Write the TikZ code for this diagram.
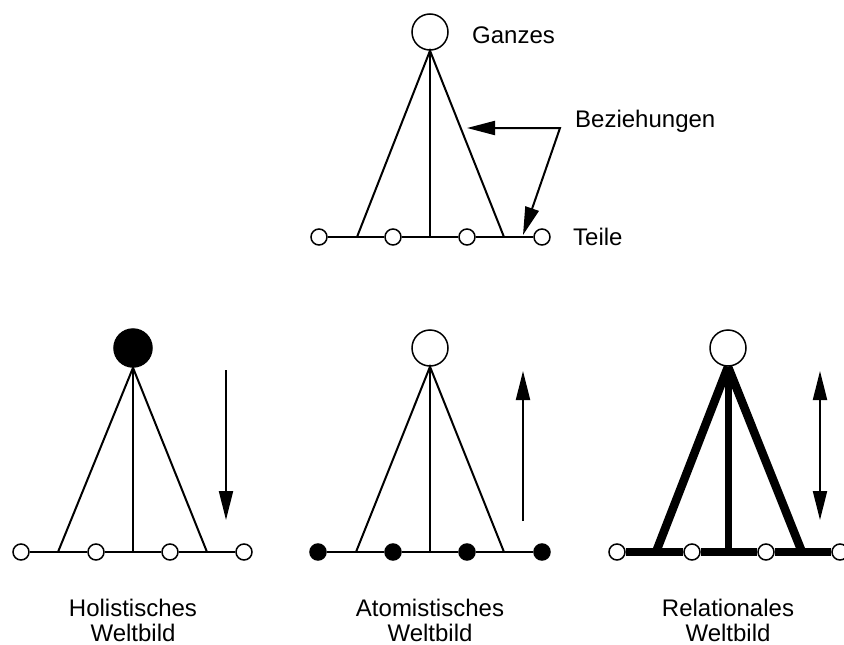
\documentclass[tikz,border=0pt]{standalone}
\usepackage{fontspec}
\setmainfont{Liberation Sans}
\usetikzlibrary{arrows.meta,backgrounds}

\begin{document}
\begin{tikzpicture}[
  x=1pt, y=-1pt,
  ganz/.style={draw, circle, fill=white, line width=1.5pt,
    minimum size=36pt, inner sep=0pt},
  teil/.style={draw, circle, fill=white, line width=1.5pt,
    minimum size=16pt, inner sep=0pt},
  rel/.style={line width=2pt},
  dick/.style={line width=8.5pt},
  pfeil/.style={line width=2pt, -{Triangle[length=29pt,width=14pt]}},
  txt/.style={font=\fontsize{24}{25}\selectfont, inner sep=0pt, align=center}
]
\useasboundingbox (0,0) rectangle (844,645);

\node[ganz] (g) at (430,32) {};
\node[teil] (t1) at (319,237) {};
\node[teil] (t2) at (393,237) {};
\node[teil] (t3) at (467,237) {};
\node[teil] (t4) at (542,237) {};
\coordinate (tl) at (357,237);
\coordinate (tm) at (430,237);
\coordinate (tr) at (504,237);
\node[txt, anchor=base west] (ganzes) at (472,43) {Ganzes};
\node[txt, anchor=base west] (bez) at (575,127) {Beziehungen};
\node[txt, anchor=base west] (teile) at (573,245) {Teile};
\coordinate (knick) at (560,128);
\coordinate (bezA) at (467,128);
\coordinate (bezB) at (523,235);

\draw[rel] (t1) -- (t2) -- (t3) -- (t4);
\draw[rel] (tl) -- (g.south) -- (tr);
\draw[rel] (g.south) -- (tm);
\draw[line width=2pt, {Triangle[length=28pt,width=14pt]}-{Triangle[length=28pt,width=14pt]}]
  (bezA) -- (knick) -- (bezB);

\node[ganz, fill=black, minimum size=38pt] (hg) at (133,348) {};
\node[teil] (h1) at (21,552) {};
\node[teil] (h2) at (96,552) {};
\node[teil] (h3) at (170,552) {};
\node[teil] (h4) at (244,552) {};
\coordinate (hl) at (58,552);
\coordinate (hm) at (133,552);
\coordinate (hr) at (207,552);
\coordinate (hs) at (226,370);
\coordinate (he) at (226,520);
\node[txt, anchor=north] (holist) at (133,599) {Holistisches\\Weltbild};

\draw[rel] (h1) -- (h2) -- (h3) -- (h4);
\draw[rel] (hl) -- (hg.south) -- (hr);
\draw[rel] (hg.south) -- (hm);
\draw[pfeil] (hs) -- (he);

\node[ganz] (ag) at (430,348) {};
\node[teil, fill=black] (a1) at (318,552) {};
\node[teil, fill=black] (a2) at (393,552) {};
\node[teil, fill=black] (a3) at (467,552) {};
\node[teil, fill=black] (a4) at (542,552) {};
\coordinate (al) at (356,552);
\coordinate (am) at (430,552);
\coordinate (ar) at (504,552);
\coordinate (as) at (523,521);
\coordinate (ae) at (523,371);
\node[txt, anchor=north] (atom) at (430,599) {Atomistisches\\Weltbild};

\draw[rel] (a1) -- (a2) -- (a3) -- (a4);
\draw[rel] (al) -- (ag.south) -- (ar);
\draw[rel] (ag.south) -- (am);
\draw[pfeil] (as) -- (ae);

\node[ganz] (rg) at (728,348) {};
\node[teil] (r1) at (617,552) {};
\node[teil] (r2) at (692,552) {};
\node[teil] (r3) at (766,552) {};
\node[teil] (r4) at (840,552) {};
\coordinate (rl) at (656,552);
\coordinate (rm) at (728,552);
\coordinate (rr) at (802,552);
\coordinate (rs) at (820,371);
\coordinate (re) at (820,520);
\node[txt, anchor=north] (relat) at (728,599) {Relationales\\Weltbild};

\begin{scope}[on background layer]
\draw[dick, line width=7.5pt] (r1) -- (r2) -- (r3) -- (r4);
\draw[dick] (rl) -- (rg.south);
\draw[dick] (rr) -- (rg.south);
\draw[dick, line width=7pt] (rm) -- (rg.south);
\end{scope}
\draw[line width=2pt, {Triangle[length=29pt,width=14pt]}-{Triangle[length=29pt,width=14pt]}]
  (rs) -- (re);
\end{tikzpicture}
\end{document}
